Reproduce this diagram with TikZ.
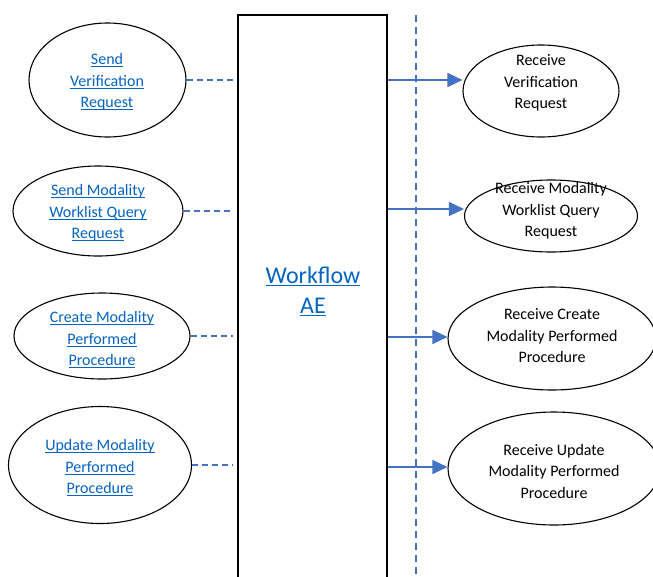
\documentclass[tikz,border=0pt]{standalone}
\usepackage{fontspec}
\setmainfont{Carlito}
\usetikzlibrary{arrows.meta,shapes.geometric}
\definecolor{linkblue}{HTML}{0563C1}
\definecolor{lineblue}{HTML}{4472C4}
\newcommand\ulink[1]{\setbox0\hbox{#1}\rlap{\rule[-2.6pt]{\wd0}{0.9pt}}\box0}
\begin{document}
\begin{tikzpicture}[x=1pt,y=-1pt,
  oval/.style={draw, ellipse, line width=1.1pt, inner sep=0pt},
  ltxt/.style={align=center, text=linkblue, font=\fontsize{16}{21.5}\selectfont},
  rtxt/.style={align=center, text=black, font=\fontsize{16}{21.5}\selectfont},
  linkline/.style={lineblue, line width=1.1pt, dash pattern=on 6pt off 4pt},
  sepline/.style={lineblue, line width=1.5pt, dash pattern=on 7pt off 5pt},
  sig/.style={lineblue, line width=1.3pt, -{Triangle[length=15pt,width=14pt]}}]
\useasboundingbox (0,0) rectangle (653,576);
\clip (0,0) rectangle (653,576);
% central box
\node[draw, line width=2pt, minimum width=149, minimum height=580, inner sep=0pt] (box) at (312.5,305) {};
\node[align=center, text=linkblue, font=\fontsize{24}{30}\selectfont] (wf) at (313,291) {\ulink{Workflow}\\\ulink{AE}};
% separator
\coordinate (vt) at (416,15);
\coordinate (vb) at (416,576);
\draw[sepline] (vt) -- (vb);
% left ellipses
\node[oval, minimum width=157, minimum height=114] (l1) at (107.5,80) {};
\node[oval, minimum width=170, minimum height=90] (l2) at (98,211) {};
\node[oval, minimum width=176, minimum height=86] (l3) at (102,336) {};
\node[oval, minimum width=183, minimum height=117] (l4) at (100,465) {};
\node[ltxt] (l1t) at (107,82) {\ulink{Send}\\\ulink{Verification}\\\ulink{Request}};
\node[ltxt] (l2t) at (98,213) {\ulink{Send Modality}\\\ulink{Worklist Query}\\\ulink{Request}};
\node[ltxt] (l3t) at (102,340) {\ulink{Create Modality}\\\ulink{Performed}\\\ulink{Procedure}};
\node[ltxt] (l4t) at (100,468) {\ulink{Update Modality}\\\ulink{Performed}\\\ulink{Procedure}};
% right ellipses
\node[oval, minimum width=156, minimum height=92] (r1) at (541,91) {};
\node[oval, minimum width=173, minimum height=72] (r2) at (551,216) {};
\node[oval, minimum width=208, minimum height=103] (r3) at (552,338.5) {};
\node[oval, minimum width=212, minimum height=113] (r4) at (554,468.5) {};
\node[rtxt] (r1t) at (541,83) {Receive\\Verification\\Request};
\node[rtxt] (r2t) at (551,211) {Receive Modality\\Worklist Query\\Request};
\node[rtxt] (r3t) at (552,336) {Receive Create\\Modality Performed\\Procedure};
\node[rtxt] (r4t) at (554,471) {Receive Update\\Modality Performed\\Procedure};
% dashed links
\coordinate (bl) at ([xshift=-4pt]box.west);
\draw[linkline] (l1.east) -- (bl |- l1.east);
\draw[linkline] (l2.east) -- (bl |- l2.east);
\draw[linkline] (l3.east) -- (bl |- l3.east);
\draw[linkline] (l4.east) -- (bl |- l4.east);
% arrows
\coordinate (a1) at (box.east |- 0,80);
\coordinate (a2) at (box.east |- 0,209);
\coordinate (a3) at (box.east |- 0,337);
\coordinate (a4) at (box.east |- 0,467);
\draw[sig] (a1) -- (r1.west |- a1);
\draw[sig] (a2) -- (r2.west |- a2);
\draw[sig] (a3) -- (r3.west |- a3);
\draw[sig] (a4) -- (r4.west |- a4);
\end{tikzpicture}
\end{document}
